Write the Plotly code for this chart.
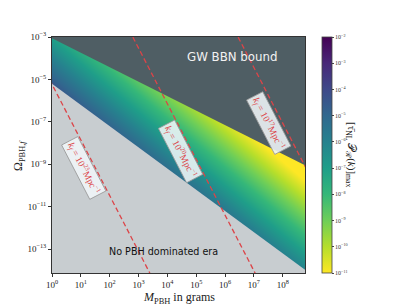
import numpy as np
import plotly.graph_objects as go

# ---------------- data ----------------
# axis extents, log10 units
X_LOG_RANGE = [0.0, 8.77]
Y_LOG_RANGE = [-14.13, -3.0]

x_tick_vals = [1e0, 1e1, 1e2, 1e3, 1e4, 1e5, 1e6, 1e7, 1e8]
x_tick_text = ["10<sup>0</sup>", "10<sup>1</sup>", "10<sup>2</sup>", "10<sup>3</sup>",
               "10<sup>4</sup>", "10<sup>5</sup>", "10<sup>6</sup>", "10<sup>7</sup>",
               "10<sup>8</sup>"]
y_tick_vals = [1e-13, 1e-11, 1e-9, 1e-7, 1e-5, 1e-3]
y_tick_text = ["10<sup>−13</sup>", "10<sup>−11</sup>", "10<sup>−9</sup>",
               "10<sup>−7</sup>", "10<sup>−5</sup>", "10<sup>−3</sup>"]

# GW BBN bound: upper edge of the coloured wedge
bbn_M = [10 ** -0.3, 1e9]
bbn_Omega = [10 ** -2.85, 10 ** -9.2]

# PBH domination threshold: lower edge of the coloured wedge
dom_M = [10 ** -0.3, 1e9]
dom_Omega = [10 ** -4.91, 10 ** -14.21]

# colour field: log10 [tau_NL P_R(k)]_max sampled at the corners of the sheet
field_M = [10 ** -0.5, 10 ** 9.5]
field_Omega = [1e-15, 1e-2]
field_log_value = [[7.5, -5.9],      # at Omega = 1e-15
                   [-7.6, -21.0]]    # at Omega = 1e-2

cbar_tick_vals = [-2, -3, -4, -5, -6, -7, -8, -9, -10, -11]
cbar_tick_text = ["10<sup>−2</sup>", "10<sup>−3</sup>", "10<sup>−4</sup>", "10<sup>−5</sup>",
                  "10<sup>−6</sup>", "10<sup>−7</sup>", "10<sup>−8</sup>", "10<sup>−9</sup>",
                  "10<sup>−10</sup>", "10<sup>−11</sup>"]

# dashed k_f lines: end points at Omega = 1e-2 and Omega = 1e-15
kf_exponent = [23, 20, 17]
kf_M_top = [10 ** -1.23, 10 ** 2.42, 10 ** 6.07]
kf_M_bottom = [10 ** 3.72, 10 ** 7.37, 10 ** 11.02]
kf_Omega_top = [1e-2, 1e-2, 1e-2]
kf_Omega_bottom = [1e-15, 1e-15, 1e-15]

# label anchors for the k_f lines
kf_label_M = [10 ** 1.12, 10 ** 4.45, 10 ** 7.53]
kf_label_Omega = [10 ** -9.18, 10 ** -8.42, 10 ** -7.06]

region_labels = ["GW BBN bound", "No PBH dominated era"]
region_label_M = [10 ** 6.25, 10 ** 3.86]
region_label_Omega = [10 ** -3.94, 10 ** -13.12]

# ---------------- styling ----------------
DARK = "#4f5e64"
LIGHT = "#c8cdd0"
RED = "#dc4448"
SERIF = "Liberation Serif, DejaVu Serif, serif"
SANS = "DejaVu Sans, Verdana, sans-serif"

fig = go.Figure()

fig.add_trace(go.Heatmap(
    x=field_M, y=field_Omega, z=field_log_value,
    zsmooth="best", colorscale="Viridis", reversescale=True,
    zmin=-11, zmax=-2,
    colorbar=dict(
        x=1.067, xanchor="left", xref="paper", xpad=0,
        y=0.5, yanchor="middle", ypad=0,
        len=1.0, lenmode="fraction", thickness=10,
        outlinecolor="#444", outlinewidth=0.8,
        tickvals=cbar_tick_vals, ticktext=cbar_tick_text,
        ticks="outside", ticklen=2, tickcolor="#444",
        tickfont=dict(family=SERIF, size=6, color="#333"),
    ),
    hoverinfo="skip",
))

top_edge = 10 ** (Y_LOG_RANGE[1] + 1)
bottom_edge = 10 ** (Y_LOG_RANGE[0] - 1)

fig.add_trace(go.Scatter(
    x=bbn_M + [bbn_M[-1], bbn_M[0]],
    y=bbn_Omega + [top_edge, top_edge],
    fill="toself", fillcolor=DARK, mode="lines", line=dict(width=0, color=DARK),
    showlegend=False, hoverinfo="skip",
))
fig.add_trace(go.Scatter(
    x=dom_M + [dom_M[-1], dom_M[0]],
    y=dom_Omega + [bottom_edge, bottom_edge],
    fill="toself", fillcolor=LIGHT, mode="lines", line=dict(width=0, color=LIGHT),
    showlegend=False, hoverinfo="skip",
))

for i in range(len(kf_exponent)):
    fig.add_trace(go.Scatter(
        x=[kf_M_top[i], kf_M_bottom[i]], y=[kf_Omega_top[i], kf_Omega_bottom[i]],
        mode="lines", line=dict(color=RED, width=1.3, dash="5px,3px"),
        showlegend=False, hoverinfo="skip",
    ))
    fig.add_annotation(
        x=np.log10(kf_label_M[i]), y=np.log10(kf_label_Omega[i]), xref="x", yref="y",
        text=f"<i>k<sub>f</sub></i> = 10<sup>{kf_exponent[i]}</sup>Mpc<sup>−1</sup>",
        showarrow=False, textangle=62.6,
        font=dict(family=SERIF, size=9.5, color=RED),
        bgcolor="rgba(240,246,248,0.88)", bordercolor="#9a9a9a", borderwidth=0.8,
        borderpad=2,
    )

label_colors = ["#f2f2f2", "#111111"]
label_sizes = [11.8, 9.6]
for i in range(len(region_labels)):
    fig.add_annotation(
        x=np.log10(region_label_M[i]), y=np.log10(region_label_Omega[i]),
        xref="x", yref="y", text=region_labels[i], showarrow=False,
        font=dict(family=SANS, size=label_sizes[i], color=label_colors[i]),
    )

# axis titles
fig.add_annotation(
    x=0.5, y=-0.108, xref="paper", yref="paper", yanchor="middle",
    text="<i>M</i><sub>PBH</sub> in grams", showarrow=False,
    font=dict(family=SERIF, size=12, color="#222"),
)
fig.add_annotation(
    x=-0.17, y=0.5, xref="paper", yref="paper",
    text="Ω<sub>PBH,<i>f</i></sub>", showarrow=False, textangle=-90,
    font=dict(family=SERIF, size=12, color="#222"),
)
# colour bar title
fig.add_annotation(
    x=1.217, y=0.5, xref="paper", yref="paper",
    text="[τ̄<sub>NL</sub> 𝒫<sub>ℛ</sub>(<i>k</i>)]<sub>max</sub>", showarrow=False,
    textangle=90, font=dict(family=SERIF, size=11, color="#222"),
)

axis_common = dict(
    type="log", showgrid=False, zeroline=False,
    showline=True, linecolor="#333", linewidth=0.9, mirror=True,
    ticks="outside", ticklen=3, tickcolor="#333",
    tickfont=dict(family=SERIF, size=9, color="#222"),
)
fig.update_xaxes(range=X_LOG_RANGE, tickvals=x_tick_vals, ticktext=x_tick_text, **axis_common)
fig.update_yaxes(range=Y_LOG_RANGE, tickvals=y_tick_vals, ticktext=y_tick_text, **axis_common)

# the page body adds an 8 px offset, so the figure is 8 px smaller and margins shifted
fig.update_layout(
    width=403, height=300,
    margin=dict(l=44, r=106, t=29, b=35),
    paper_bgcolor="white", plot_bgcolor="white",
    showlegend=False,
)

fig.write_html("out.html")
